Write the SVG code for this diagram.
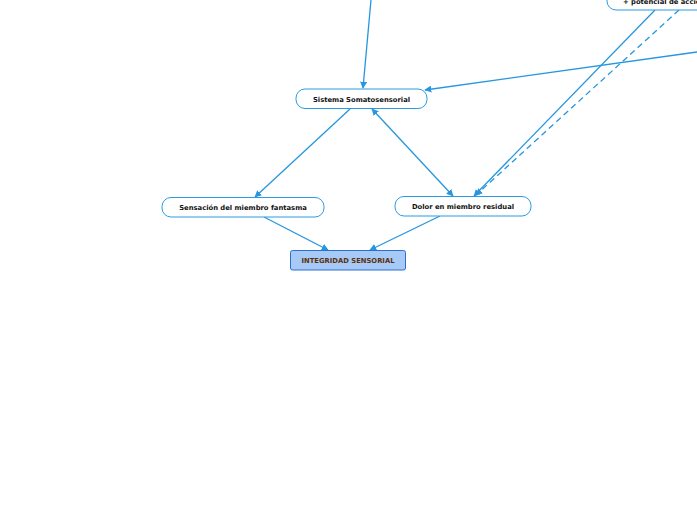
<svg xmlns="http://www.w3.org/2000/svg" width="697" height="520" viewBox="0 0 697 520">
<style>
.n{fill:#fff;stroke:#2a9be3;stroke-width:1}
.t{font-family:"DejaVu Sans",Verdana,sans-serif;font-weight:bold;font-size:6.8px;fill:#111}
.m{text-anchor:middle}
.s{text-anchor:start}
.c{fill:none;stroke:#2596df;stroke-width:1.3}
.d{stroke-dasharray:6,4}
</style>
<defs>
<marker id="a" viewBox="0 0 10 10" refX="9" refY="5" markerWidth="7" markerHeight="7" orient="auto-start-reverse" markerUnits="userSpaceOnUse">
<path d="M0,0 L10,5 L0,10 z" fill="#2596df"/>
</marker>
</defs>
<rect width="697" height="520" fill="#fff"/>
<g id="connectors">
<path class="c" d="M371,0 L363,88" marker-end="url(#a)"/>
<path class="c" d="M697,52 L425,90" marker-end="url(#a)"/>
<path class="c" d="M350,109 L255,197" marker-end="url(#a)"/>
<path class="c" d="M372,109 L453,196" marker-start="url(#a)" marker-end="url(#a)"/>
<path class="c" d="M264,217 L328,250" marker-end="url(#a)"/>
<path class="c" d="M440,216 L370,250" marker-end="url(#a)"/>
<path class="c" d="M655,10 L474,196" marker-end="url(#a)"/>
<path class="c d" d="M679,10 L476,195" marker-end="url(#a)"/>
</g>
<g id="n-potencial">
<rect class="n" x="607" y="-20" width="120" height="30" rx="9"/>
<text class="t s" x="623" y="3.5">+ potencial de acción</text>
</g>
<g id="n-sistema">
<rect class="n" x="296" y="89" width="131" height="19.5" rx="9"/>
<text class="t m" x="361.5" y="101.5">Sistema Somatosensorial</text>
</g>
<g id="n-sensacion">
<rect class="n" x="162" y="197.5" width="162" height="19.5" rx="9"/>
<text class="t m" x="243" y="209.5">Sensación del miembro fantasma</text>
</g>
<g id="n-dolor">
<rect class="n" x="395" y="196.5" width="136" height="19.5" rx="9"/>
<text class="t m" x="463" y="208.5">Dolor en miembro residual</text>
</g>
<g id="n-integridad">
<rect x="290.5" y="250.5" width="115" height="19.5" rx="2" fill="#a6c9f6" stroke="#2a6fd3" stroke-width="1"/>
<text class="t m" x="348" y="262.7" style="fill:#5c2f0e">INTEGRIDAD SENSORIAL</text>
</g>
</svg>
